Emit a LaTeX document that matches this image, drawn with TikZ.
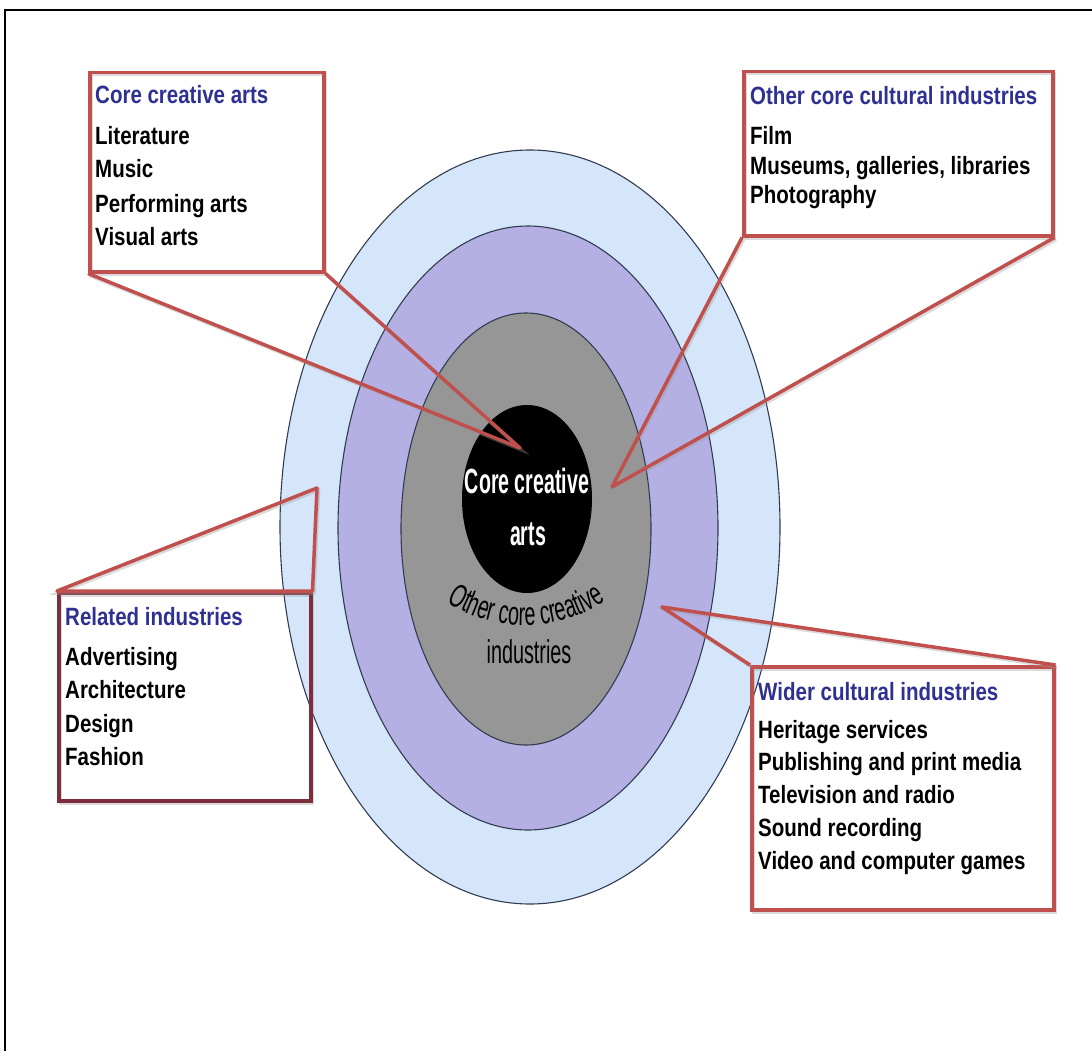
\documentclass[tikz,border=0pt]{standalone}
\usepackage{fontspec}
\setmainfont{Liberation Sans}
\newfontfamily\narrowfont[FakeStretch=0.82]{Liberation Sans}
\newfontfamily\tallfont[FakeStretch=0.6]{Liberation Sans}
\newfontfamily\centrefont[FakeStretch=0.56]{Liberation Sans}
\newcommand\boxfont{\narrowfont\bfseries\fontsize{25}{30}\selectfont}
\newcommand\curvefont{\tallfont\fontsize{33}{38}\selectfont}
\usetikzlibrary{decorations.text}
\definecolor{calred}{RGB}{192,80,77}
\definecolor{calmaroon}{RGB}{125,45,60}
\definecolor{titleblue}{RGB}{46,49,146}
\definecolor{ringblue}{RGB}{214,230,250}
\definecolor{ringpurple}{RGB}{180,176,228}
\definecolor{ringgray}{RGB}{150,150,150}
\definecolor{ringline}{RGB}{50,60,80}
\tikzset{
  ring/.style={draw=ringline, line width=1.1pt},
  shadowed/.style={preaction={draw=black!40, opacity=0.35, line width=3.5pt,
      transform canvas={shift={(1.5pt,-2pt)}}}},
  callout/.style={draw=calred, line width=3.5pt, line join=round, shadowed},
  cbox/.style={rectangle, draw=calred, line width=3.5pt, inner sep=0pt,
      anchor=north west, shadowed},
  boxtitle/.style={anchor=base west, inner sep=0pt, text=titleblue, font=\boxfont},
  boxitem/.style={anchor=base west, inner sep=0pt, text=black, font=\boxfont},
  centretext/.style={anchor=base, inner sep=0pt, text=white,
      font=\centrefont\bfseries\fontsize{35}{40}\selectfont}
}
\begin{document}
\begin{tikzpicture}[x=1pt,y=-1pt]
\useasboundingbox (0,0) rectangle (1092,1051);
\fill[white] (0,0) rectangle (1092,1051);
\draw[line width=2pt] (5,1051) -- (5,10) -- (1092,10);

% rings
\filldraw[ring, fill=ringblue] (530,527) ellipse [x radius=250, y radius=377];
\filldraw[ring, fill=ringpurple] (528,528) ellipse [x radius=190, y radius=302];
\filldraw[ring, fill=ringgray] (526,529) ellipse [x radius=125, y radius=216];
\fill[black] (527,499) ellipse [x radius=65, y radius=94];

% centre texts
\node[centretext] (cc1) at (527,493) {Core creative};
\node[centretext] (cc2) at (528,545) {arts};
\path[decorate, decoration={text along path, text align=center,
   text={|\curvefont|Other core creative}}]
   (443,600) arc[start angle=124, end angle=55, radius=147];
\node[anchor=base, inner sep=0pt, font=\curvefont] (ind) at (529,663) {industries};

% callout boxes
\node[cbox, minimum width=234pt, minimum height=199pt] (b1) at (88,71) {};
\node[cbox, minimum width=309pt, minimum height=164pt] (b2) at (742,70) {};
\node[cbox, draw=calmaroon, minimum width=252pt, minimum height=208pt] (b3) at (57,591) {};
\node[cbox, minimum width=302pt, minimum height=243pt] (b4) at (750,665) {};

\coordinate (t1) at (520,448);
\coordinate (t2) at (612,487);
\coordinate (t3) at (317,488);
\coordinate (t4) at (662,607);

\draw[callout] (b1.south west) -- (t1) -- (b1.south east);
\draw[callout] (b2.south west) -- (t2) -- (b2.south east);
\draw[callout] (b3.north west) -- (t3) -- (b3.north east) -- cycle;
\draw[callout] (b4.north west) -- (t4) -- (b4.north east);

% box 1
\node[boxtitle] (h1) at (95,104) {Core creative arts};
\node[boxitem] (i11) at (95,145) {Literature};
\node[boxitem] (i12) at (95,178) {Music};
\node[boxitem] (i13) at (95,212) {Performing arts};
\node[boxitem] (i14) at (95,245) {Visual arts};

% box 2
\node[boxtitle] (h2) at (750,105) {Other core cultural industries};
\node[boxitem] (i21) at (750,145) {Film};
\node[boxitem] (i22) at (750,175) {Museums, galleries, libraries};
\node[boxitem] (i23) at (750,204) {Photography};

% box 3
\node[boxtitle] (h3) at (65,625) {Related industries};
\node[boxitem] (i31) at (65,665) {Advertising};
\node[boxitem] (i32) at (65,698) {Architecture};
\node[boxitem] (i33) at (65,732) {Design};
\node[boxitem] (i34) at (65,765) {Fashion};

% box 4
\node[boxtitle] (h4) at (758,700) {Wider cultural industries};
\node[boxitem] (i41) at (758,738) {Heritage services};
\node[boxitem] (i42) at (758,770) {Publishing and print media};
\node[boxitem] (i43) at (758,803) {Television and radio};
\node[boxitem] (i44) at (758,836) {Sound recording};
\node[boxitem] (i45) at (758,869) {Video and computer games};
\end{tikzpicture}
\end{document}
